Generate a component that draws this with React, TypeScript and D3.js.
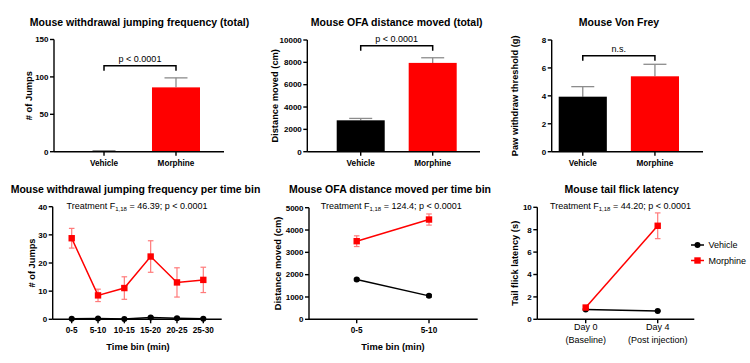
import React from "react";
import * as d3 from "d3";

// ---------- DATA ----------
const barCategories = ["Vehicle", "Morphine"];
const jumpTotalMean = [0.8, 86];
const jumpTotalErr = [0.6, 12.7];
const ofaTotalMean = [2810, 7950];
const ofaTotalErr = [170, 460];
const vonFreyMean = [3.94, 5.4];
const vonFreyErr = [0.72, 0.86];

const jumpTicks = [0, 50, 100, 150];
const ofaTotalTicks = [0, 2000, 4000, 6000, 8000, 10000];
const vonFreyTicks = [0, 2, 4, 6, 8];

const timeBins = ["0-5", "5-10", "10-15", "15-20", "20-25", "25-30"];
const jumpMorphine = [28.8, 8.5, 11.1, 22.3, 13.1, 14.0];
const jumpMorphineErr = [3.5, 2.2, 4.0, 5.6, 5.2, 4.5];
const jumpVehicle = [0.2, 0.3, 0.1, 0.6, 0.4, 0.2];
const jumpVehicleErr = [0.2, 0.2, 0.1, 0.4, 0.3, 0.2];
const jumpBinTicks = [0, 10, 20, 30, 40];

const ofaBins = ["0-5", "5-10"];
const ofaMorphine = [3500, 4470];
const ofaMorphineErr = [240, 250];
const ofaVehicle = [1780, 1050];
const ofaVehicleErr = [50, 50];
const ofaBinTicks = [0, 1000, 2000, 3000, 4000, 5000];

const tailDays = [["Day 0", "(Baseline)"], ["Day 4", "(Post injection)"]];
const tailMorphine = [1.05, 8.35];
const tailMorphineErr = [0.1, 1.15];
const tailVehicle = [0.88, 0.75];
const tailVehicleErr = [0.05, 0.05];
const tailTicks = [0, 2, 4, 6, 8, 10];

const seriesNames = ["Vehicle", "Morphine"];

// ---------- STYLE ----------
const FONT = "'Liberation Sans', Arial, Helvetica, sans-serif";
const RED = "#ff0000";
const RED_ERR = "#ff7a7a";
const GREY_ERR = "#8c8c8c";
const AX = 1.4;

type Frame = { left: number; right: number; top: number; bottom: number };

function YAxis({ y, ticks, f, label, labelX }: { y: d3.ScaleLinear<number, number>; ticks: number[]; f: Frame; label: string; labelX: number }) {
  const mid = (f.top + f.bottom) / 2;
  return (
    <g>
      <line x1={f.left} x2={f.left} y1={y(ticks[ticks.length - 1])} y2={f.bottom} stroke="#000" strokeWidth={AX} />
      {ticks.map((t) => (
        <g key={t}>
          <line x1={f.left - 4} x2={f.left} y1={y(t)} y2={y(t)} stroke="#000" strokeWidth={AX} />
          <text x={f.left - 5.5} y={y(t)} dy="0.35em" textAnchor="end" fontSize={8} fontWeight="bold" fontFamily={FONT}>
            {t}
          </text>
        </g>
      ))}
      <text transform={`translate(${labelX},${mid}) rotate(-90)`} textAnchor="middle" dy="0.35em" fontSize={9.3} fontWeight="bold" fontFamily={FONT}>
        {label}
      </text>
    </g>
  );
}

function Title({ x, y, text }: { x: number; y: number; text: string }) {
  return (
    <text x={x} y={y} textAnchor="middle" fontSize={10.5} fontWeight="bold" fontFamily={FONT}>
      {text}
    </text>
  );
}

function BarPanel(props: {
  f: Frame; band: [number, number]; domainMax: number; ticks: number[]; means: number[]; errs: number[];
  title: string; titleX: number; yLabel: string; labelX: number; sig: string; bracketY: number;
}) {
  const { f } = props;
  const y = d3.scaleLinear().domain([0, props.domainMax]).range([f.bottom, f.top]);
  const x = d3.scaleBand<string>().domain(barCategories).range(props.band).paddingInner(0.333).paddingOuter(0);
  const bw = x.bandwidth();
  const colors = ["#000", RED];
  const c0 = (x(barCategories[0]) as number) + bw / 2;
  const c1 = (x(barCategories[1]) as number) + bw / 2;
  const by = props.bracketY;
  return (
    <g>
      <Title x={props.titleX} y={25.5} text={props.title} />
      {barCategories.map((c, i) => {
        const x0 = x(c) as number;
        const top = y(props.means[i]);
        const et = y(props.means[i] + props.errs[i]);
        return (
          <g key={c}>
            <line x1={x0 + bw / 2} x2={x0 + bw / 2} y1={top} y2={et} stroke={GREY_ERR} strokeWidth={1.3} />
            <line x1={x0 + bw / 2 - 11.5} x2={x0 + bw / 2 + 11.5} y1={et} y2={et} stroke={GREY_ERR} strokeWidth={1.3} />
            <rect x={x0} y={top} width={bw} height={Math.max(0.8, f.bottom - top)} fill={colors[i]} />
          </g>
        );
      })}
      <line x1={f.left} x2={f.right} y1={f.bottom} y2={f.bottom} stroke="#000" strokeWidth={AX} />
      {barCategories.map((c) => {
        const cx = (x(c) as number) + bw / 2;
        return (
          <g key={c}>
            <line x1={cx} x2={cx} y1={f.bottom} y2={f.bottom + 4} stroke="#000" strokeWidth={AX} />
            <text x={cx} y={f.bottom + 11.5} dy="0.35em" textAnchor="middle" fontSize={8.2} fontWeight="bold" fontFamily={FONT}>
              {c}
            </text>
          </g>
        );
      })}
      <YAxis y={y} ticks={props.ticks} f={f} label={props.yLabel} labelX={props.labelX} />
      <path d={`M${c0},${by + 5}V${by}H${c1}V${by + 5}`} fill="none" stroke="#000" strokeWidth={1.5} />
      <text x={(c0 + c1) / 2} y={by - 4} textAnchor="middle" fontSize={9} fontFamily={FONT}>
        {props.sig}
      </text>
    </g>
  );
}

function StatText({ x, y, f, p }: { x: number; y: number; f: string; p: string }) {
  return (
    <text x={x} y={y} textAnchor="middle" fontSize={9} fontFamily={FONT}>
      Treatment F
      <tspan fontSize={6} dy={2.5}>1,18</tspan>
      <tspan dy={-2.5}>{` = ${f}; p < ${p}`}</tspan>
    </text>
  );
}

function LinePanel(props: {
  f: Frame; pts: [number, number]; cats: string[]; xLabels: string[][]; domainMax: number; ticks: number[];
  morphine: number[]; morphineErr: number[]; vehicle: number[]; vehicleErr: number[];
  title: string; titleX: number; yLabel: string; labelX: number; fStat: string; statX: number; xTitle?: string; xTitleX?: number;
}) {
  const { f } = props;
  const y = d3.scaleLinear().domain([0, props.domainMax]).range([f.bottom, f.top]);
  const x = d3.scalePoint<string>().domain(props.cats).range(props.pts).padding(0);
  const line = d3.line<number>().x((_, i) => x(props.cats[i]) as number).y((d) => y(d));
  const errs = (vals: number[], e: number[], color: string) =>
    vals.map((v, i) => {
      const cx = x(props.cats[i]) as number;
      const t = y(v + e[i]);
      const b = y(Math.max(0, v - e[i]));
      return (
        <g key={i} stroke={color} strokeWidth={1.2}>
          <line x1={cx} x2={cx} y1={t} y2={b} />
          <line x1={cx - 2.8} x2={cx + 2.8} y1={t} y2={t} />
          <line x1={cx - 2.8} x2={cx + 2.8} y1={b} y2={b} />
        </g>
      );
    });
  return (
    <g>
      <Title x={props.titleX} y={193} text={props.title} />
      <StatText x={props.statX} y={208.5} f={props.fStat} p="0.0001" />
      {errs(props.morphine, props.morphineErr, RED_ERR)}
      {errs(props.vehicle, props.vehicleErr, "#000")}
      <path d={line(props.vehicle) as string} fill="none" stroke="#000" strokeWidth={1.5} />
      <path d={line(props.morphine) as string} fill="none" stroke={RED} strokeWidth={1.5} />
      {props.vehicle.map((v, i) => (
        <circle key={i} cx={x(props.cats[i]) as number} cy={y(v)} r={3} fill="#000" />
      ))}
      {props.morphine.map((v, i) => (
        <rect key={i} x={(x(props.cats[i]) as number) - 3.2} y={y(v) - 3.2} width={6.4} height={6.4} fill={RED} />
      ))}
      <line x1={f.left} x2={f.right} y1={f.bottom} y2={f.bottom} stroke="#000" strokeWidth={AX} />
      {props.cats.map((c, i) => {
        const cx = x(c) as number;
        const lbl = props.xLabels[i];
        return (
          <g key={c}>
            <line x1={cx} x2={cx} y1={f.bottom} y2={f.bottom + 4} stroke="#000" strokeWidth={AX} />
            {lbl.map((s, j) => (
              <text key={j} x={cx} y={f.bottom + (lbl.length > 1 ? 8 + j * 12.7 : 10.8)} dy="0.35em" textAnchor="middle"
                fontSize={lbl.length > 1 ? 9 : 8.2} fontWeight={lbl.length > 1 ? "normal" : "bold"} fontFamily={FONT}>
                {s}
              </text>
            ))}
          </g>
        );
      })}
      {props.xTitle && (
        <text x={props.xTitleX} y={346.5} dy="0.35em" textAnchor="middle" fontSize={9.3} fontWeight="bold" fontFamily={FONT}>
          {props.xTitle}
        </text>
      )}
      <YAxis y={y} ticks={props.ticks} f={f} label={props.yLabel} labelX={props.labelX} />
    </g>
  );
}

function Legend({ x, y }: { x: number; y: number }) {
  return (
    <g>
      {seriesNames.map((n, i) => {
        const yy = y + i * 15.5;
        const color = i === 0 ? "#000" : RED;
        return (
          <g key={n}>
            <line x1={x - 6.5} x2={x + 6.5} y1={yy} y2={yy} stroke={color} strokeWidth={1.5} />
            {i === 0 ? <circle cx={x} cy={yy} r={3} fill={color} /> : <rect x={x - 3.2} y={yy - 3.2} width={6.4} height={6.4} fill={color} />}
            <text x={x + 11} y={yy} dy="0.35em" fontSize={9} fontFamily={FONT}>
              {n}
            </text>
          </g>
        );
      })}
    </g>
  );
}

export default function App() {
  return (
    <svg width={750} height={363} style={{ position: "absolute", left: 0, top: 0, background: "#fff" }}>
      <rect width={750} height={363} fill="#fff" />
      <BarPanel f={{ left: 54, right: 224, top: 39.5, bottom: 151.7 }} band={[80, 200]} domainMax={150} ticks={jumpTicks}
        means={jumpTotalMean} errs={jumpTotalErr} title="Mouse withdrawal jumping frequency (total)" titleX={139.5}
        yLabel="# of Jumps" labelX={29} sig="p < 0.0001" bracketY={65.7} />
      <BarPanel f={{ left: 307.3, right: 480, top: 40, bottom: 151.7 }} band={[336.7, 456.7]} domainMax={10000} ticks={ofaTotalTicks}
        means={ofaTotalMean} errs={ofaTotalErr} title="Mouse OFA distance moved (total)" titleX={396.7}
        yLabel="Distance moved (cm)" labelX={275} sig="p < 0.0001" bracketY={45.7} />
      <BarPanel f={{ left: 551.7, right: 703, top: 40, bottom: 151.7 }} band={[558.7, 679]} domainMax={8} ticks={vonFreyTicks}
        means={vonFreyMean} errs={vonFreyErr} title="Mouse Von Frey" titleX={619}
        yLabel="Paw withdraw threshold (g)" labelX={515} sig="n.s." bracketY={55.7} />

      <LinePanel f={{ left: 52.7, right: 221.7, top: 206.7, bottom: 319.3 }} pts={[71.7, 203.3]} cats={timeBins}
        xLabels={timeBins.map((t) => [t])} domainMax={40} ticks={jumpBinTicks}
        morphine={jumpMorphine} morphineErr={jumpMorphineErr} vehicle={jumpVehicle} vehicleErr={jumpVehicleErr}
        title="Mouse withdrawal jumping frequency per time bin" titleX={135.5} yLabel="# of Jumps" labelX={31.5}
        fStat="46.39" statX={137} xTitle="Time bin (min)" xTitleX={138} />
      <LinePanel f={{ left: 309, right: 477.7, top: 207.7, bottom: 319.3 }} pts={[356.7, 429]} cats={ofaBins}
        xLabels={ofaBins.map((t) => [t])} domainMax={5000} ticks={ofaBinTicks}
        morphine={ofaMorphine} morphineErr={ofaMorphineErr} vehicle={ofaVehicle} vehicleErr={ofaVehicleErr}
        title="Mouse OFA distance moved per time bin" titleX={390} yLabel="Distance moved (cm)" labelX={277.3}
        fStat="124.4" statX={391.3} xTitle="Time bin (min)" xTitleX={393} />
      <LinePanel f={{ left: 537.3, right: 694.3, top: 207.3, bottom: 319.3 }} pts={[585.7, 657.7]} cats={tailDays.map((d) => d[0])}
        xLabels={tailDays} domainMax={10} ticks={tailTicks}
        morphine={tailMorphine} morphineErr={tailMorphineErr} vehicle={tailVehicle} vehicleErr={tailVehicleErr}
        title="Mouse tail flick latency" titleX={621.7} yLabel="Tail flick latency (s)" labelX={515}
        fStat="44.20" statX={620.5} />
      <Legend x={697.5} y={245} />
    </svg>
  );
}
